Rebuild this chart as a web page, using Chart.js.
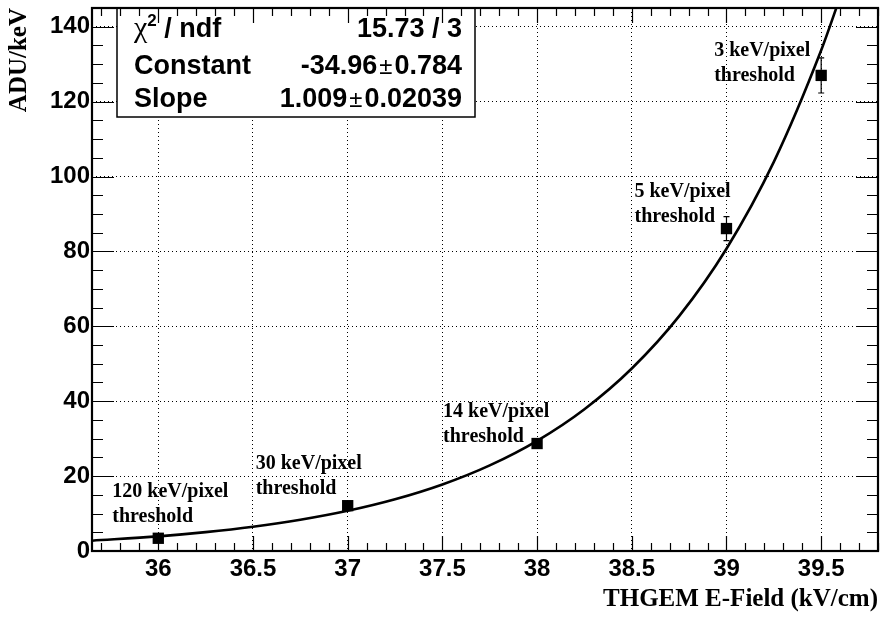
<!DOCTYPE html>
<html>
<head>
<meta charset="utf-8">
<script src="https://cdn.jsdelivr.net/npm/chart.js@4.4.1/dist/chart.umd.min.js"></script>
<style>
  html, body { margin: 0; padding: 0; background: #fff; }
  canvas { display: block; }
</style>
</head>
<body>
<canvas id="chart" width="886" height="619"></canvas>
<script>
// measured points (THGEM field vs gain)
const fieldValues = [36, 37, 38, 39, 39.5];
const aduValues = [3.4, 12.1, 28.7, 86.1, 127.0];
const aduErrors = [0.4, 0.6, 1.0, 3.2, 4.7];
const pointLabels = [
    ['120 keV/pixel', 'threshold'],
    ['30 keV/pixel', 'threshold'],
    ['14 keV/pixel', 'threshold'],
    ['5 keV/pixel', 'threshold'],
    ['3 keV/pixel', 'threshold'],
];

// exponential fit curve
const fitField = [35.65, 36, 36.25, 36.5, 36.75, 37, 37.25, 37.5, 37.75, 38, 38.25, 38.5, 38.75, 39, 39.25, 39.5, 39.6];
const fitAdu = [2.75, 3.91, 5.04, 6.48, 8.34, 10.73, 13.81, 17.77, 22.87, 29.43, 37.87, 48.74, 62.72, 80.72, 103.9, 133.7, 147.9];

const xTicks = [36, 36.5, 37, 37.5, 38, 38.5, 39, 39.5];
const yTicks = [0, 20, 40, 60, 80, 100, 120, 140];

// fit results box
const statNames = ['/ ndf', 'Constant', 'Slope'];
const statValues = ['15.73 / 3', '-34.96', '1.009'];
const statErrors = [null, '0.784', '0.02039'];

const SANS = '"Liberation Sans", Arial, sans-serif';
const SERIF = '"Liberation Serif", "Times New Roman", serif';
const BOLD27 = 'bold 27px ' + SANS;

// draws a row of text pieces with different fonts
function drawParts(ctx, parts, x, y, rightAlign) {
    let total = 0;
    parts.forEach(p => {
        ctx.font = p.font;
        p.w = ctx.measureText(p.text).width + (p.gap || 0) * 2;
        total += p.w;
    });
    let cx = rightAlign ? x - total : x;
    parts.forEach(p => {
        ctx.font = p.font;
        ctx.fillText(p.text, cx + (p.gap || 0), y + (p.dy || 0));
        cx += p.w;
    });
}

const errorBars = {
    id: 'errorBars',
    beforeDatasetsDraw(chart) {
        const {ctx, scales: {x, y}} = chart;
        ctx.save();
        ctx.strokeStyle = '#000';
        ctx.lineWidth = 1.2;
        fieldValues.forEach((f, i) => {
            const px = x.getPixelForValue(f);
            const top = y.getPixelForValue(aduValues[i] + aduErrors[i]);
            const bot = y.getPixelForValue(aduValues[i] - aduErrors[i]);
            ctx.beginPath();
            ctx.moveTo(px, top);
            ctx.lineTo(px, bot);
            ctx.moveTo(px - 3, top);
            ctx.lineTo(px + 3, top);
            ctx.moveTo(px - 3, bot);
            ctx.lineTo(px + 3, bot);
            ctx.stroke();
        });
        ctx.restore();
    }
};

// label offsets from each marker, in pixels
const labelOffsets = [[-46, -41], [-92, -37], [-94, -27], [-92, -32], [-107, -19]];

const annotations = {
    id: 'annotations',
    afterDatasetsDraw(chart) {
        const {ctx, scales: {x, y}} = chart;
        ctx.save();
        ctx.fillStyle = '#000';
        ctx.font = 'bold 20px ' + SERIF;
        ctx.textAlign = 'left';
        ctx.textBaseline = 'alphabetic';
        pointLabels.forEach((lines, i) => {
            const px = x.getPixelForValue(fieldValues[i]) + labelOffsets[i][0];
            const py = y.getPixelForValue(aduValues[i]) + labelOffsets[i][1];
            lines.forEach((t, k) => ctx.fillText(t, px, py + k * 25));
        });

        // stats box
        const box = {left: 117, top: 8, right: 475, bottom: 117};
        ctx.fillStyle = '#fff';
        ctx.fillRect(box.left, box.top, box.right - box.left, box.bottom - box.top);
        ctx.strokeStyle = '#000';
        ctx.lineWidth = 1.5;
        ctx.strokeRect(box.left, box.top, box.right - box.left, box.bottom - box.top);
        ctx.fillStyle = '#000';
        const rows = [37, 74, 107];
        rows.forEach((ry, i) => {
            let name = [{text: statNames[i], font: BOLD27}];
            if (i === 0) {
                name = [
                    {text: '\u03c7', font: '30px ' + SERIF},
                    {text: '2', font: 'bold 17px ' + SANS, dy: -11},
                    {text: ' ' + statNames[0], font: BOLD27},
                ];
            }
            drawParts(ctx, name, 134, ry, false);
            const val = [{text: statValues[i], font: BOLD27}];
            if (statErrors[i]) {
                val.push({text: '\u00b1', font: '24px ' + SANS, gap: 2});
                val.push({text: statErrors[i], font: BOLD27});
            }
            drawParts(ctx, val, 462, ry, true);
        });
        ctx.restore();
    }
};

const frameTicks = {
    id: 'frameTicks',
    afterDraw(chart) {
        const {ctx, chartArea: a, scales: {x, y}} = chart;
        ctx.save();
        ctx.strokeStyle = '#000';
        ctx.lineWidth = 1.2;
        ctx.beginPath();
        for (let i = Math.ceil(x.min * 10); i <= Math.floor(x.max * 10); i++) {
            const px = Math.round(x.getPixelForValue(i / 10)) + 0.5;
            const len = i % 5 === 0 ? 15 : 8;
            ctx.moveTo(px, a.bottom);
            ctx.lineTo(px, a.bottom - len);
            ctx.moveTo(px, a.top);
            ctx.lineTo(px, a.top + len);
        }
        for (let v = 0; v <= y.max; v += 5) {
            const py = Math.round(y.getPixelForValue(v)) + 0.5;
            const len = v % 20 === 0 ? 22 : 11;
            ctx.moveTo(a.left, py);
            ctx.lineTo(a.left + len, py);
            ctx.moveTo(a.right, py);
            ctx.lineTo(a.right - len, py);
        }
        ctx.stroke();
        ctx.lineWidth = 2.2;
        ctx.strokeRect(a.left, a.top, a.right - a.left, a.bottom - a.top);
        ctx.restore();
    }
};

const tickFont = {family: SANS, size: 24, weight: 'bold'};

// keep the plot frame where the reference has it
const noEdgePadding = s => {
    s.paddingTop = 0;
    s.paddingBottom = 0;
    s.paddingLeft = 0;
    s.paddingRight = 0;
};

new Chart(document.getElementById('chart'), {
    type: 'scatter',
    data: {
        datasets: [
            {
                type: 'line',
                data: fitField.map((f, i) => ({x: f, y: fitAdu[i]})),
                borderColor: '#000',
                borderWidth: 2.6,
                pointRadius: 0,
                cubicInterpolationMode: 'monotone',
                fill: false,
                order: 2,
            }, {
                data: fieldValues.map((f, i) => ({x: f, y: aduValues[i]})),
                pointStyle: 'rect',
                pointRadius: 8,
                backgroundColor: '#000',
                borderWidth: 0,
                order: 1,
            }
        ]
    },
    options: {
        responsive: false,
        animation: false,
        events: [],
        layout: {padding: {left: 0, top: 8, right: 6, bottom: 0}},
        plugins: {
            legend: {display: false},
            tooltip: {enabled: false},
        },
        scales: {
            x: {
                type: 'linear',
                min: 35.65,
                max: 39.8,
                afterBuildTicks: s => { s.ticks = xTicks.map(v => ({value: v})); },
                afterFit: s => { s.height = 68; noEdgePadding(s); },
                ticks: {autoSkip: false, maxRotation: 0, padding: 4, color: '#000', font: tickFont, callback: v => String(v)},
                grid: {color: '#000', lineWidth: 1, drawTicks: false},
                border: {display: false, dash: [1, 3]},
                title: {
                    display: true,
                    text: 'THGEM E-Field (kV/cm)',
                    align: 'end',
                    color: '#000',
                    font: {family: SERIF, size: 25, weight: 'bold'},
                    padding: {top: 0, bottom: 4},
                },
            },
            y: {
                type: 'linear',
                min: 0,
                max: 145,
                afterBuildTicks: s => { s.ticks = yTicks.map(v => ({value: v})); },
                afterFit: s => { s.width = 92; noEdgePadding(s); },
                ticks: {autoSkip: false, padding: 2, color: '#000', font: tickFont, callback: v => String(v)},
                grid: {color: '#000', lineWidth: 1, drawTicks: false},
                border: {display: false, dash: [1, 3]},
                title: {
                    display: true,
                    text: 'ADU/keV',
                    align: 'end',
                    color: '#000',
                    font: {family: SERIF, size: 25, weight: 'bold'},
                    padding: {top: 5, bottom: 0},
                },
            },
        },
    },
    plugins: [errorBars, annotations, frameTicks],
});
</script>
</body>
</html>
